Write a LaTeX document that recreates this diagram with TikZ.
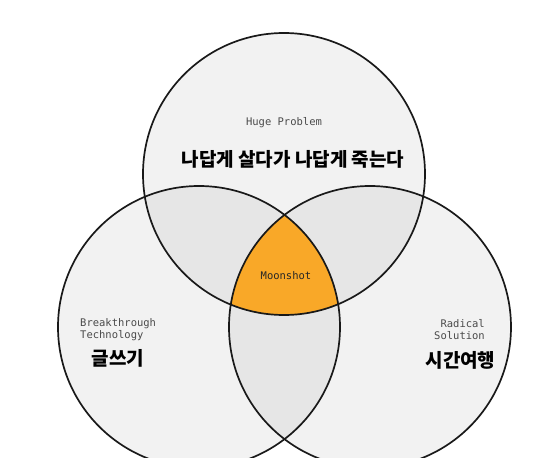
\documentclass[tikz,border=0pt]{standalone}
\usepackage{fontspec}
\newfontfamily\kr{Noto Sans CJK KR}
\newfontfamily\mono{DejaVu Sans Mono}
\usetikzlibrary{positioning}
\definecolor{setfill}{HTML}{F2F2F2}
\definecolor{pairfill}{HTML}{E6E6E6}
\definecolor{moonfill}{HTML}{F9A828}
\definecolor{taggray}{HTML}{4A4A4A}
\def\R{141pt}

\begin{document}
\begin{tikzpicture}[x=1pt,y=-1pt,
  ring/.style={draw=black!90, line width=1.7pt},
  tag/.style={font=\mono\fontsize{10.5}{12}\selectfont, text=taggray, inner sep=0pt},
  word/.style={font=\kr\bfseries\fontsize{19}{22}\selectfont, inner sep=0pt}]
  \useasboundingbox (0,0) rectangle (542,458);
  \clip (0,0) rectangle (542,458);

  % Circle centres
  \coordinate (top) at (284,174);
  \coordinate (left) at (199,327);
  \coordinate (right) at (370,327);

  % Set fills
  \foreach \c in {top,left,right}
    \fill[setfill] (\c) circle[radius=\R];

  % Pairwise overlaps
  \foreach \a/\b in {top/left, top/right, left/right}{
    \begin{scope}
      \clip (\a) circle[radius=\R];
      \fill[pairfill] (\b) circle[radius=\R];
    \end{scope}
  }

  % Triple overlap
  \begin{scope}
    \clip (top) circle[radius=\R];
    \clip (left) circle[radius=\R];
    \fill[moonfill] (right) circle[radius=\R];
  \end{scope}

  % Outlines
  \foreach \c in {top,left,right}
    \draw[ring] (\c) circle[radius=\R];

  % Labels
  \node[tag] (problem) at (284,123) {Huge Problem};
  \node[word] (problem-kr) at (293,159) {나답게 살다가 나답게 죽는다};

  \node[tag, anchor=west, align=left] (tech) at (80,330) {Breakthrough\\Technology};
  \node[word] (tech-kr) at (118,358) {글쓰기};

  \node[tag, anchor=east, align=right] (solution) at (485,330) {Radical\\Solution};
  \node[word] (solution-kr) at (460.5,360) {시간여행};

  \node[tag, text=black!85] (moonshot) at (286,276) {Moonshot};
\end{tikzpicture}
\end{document}
